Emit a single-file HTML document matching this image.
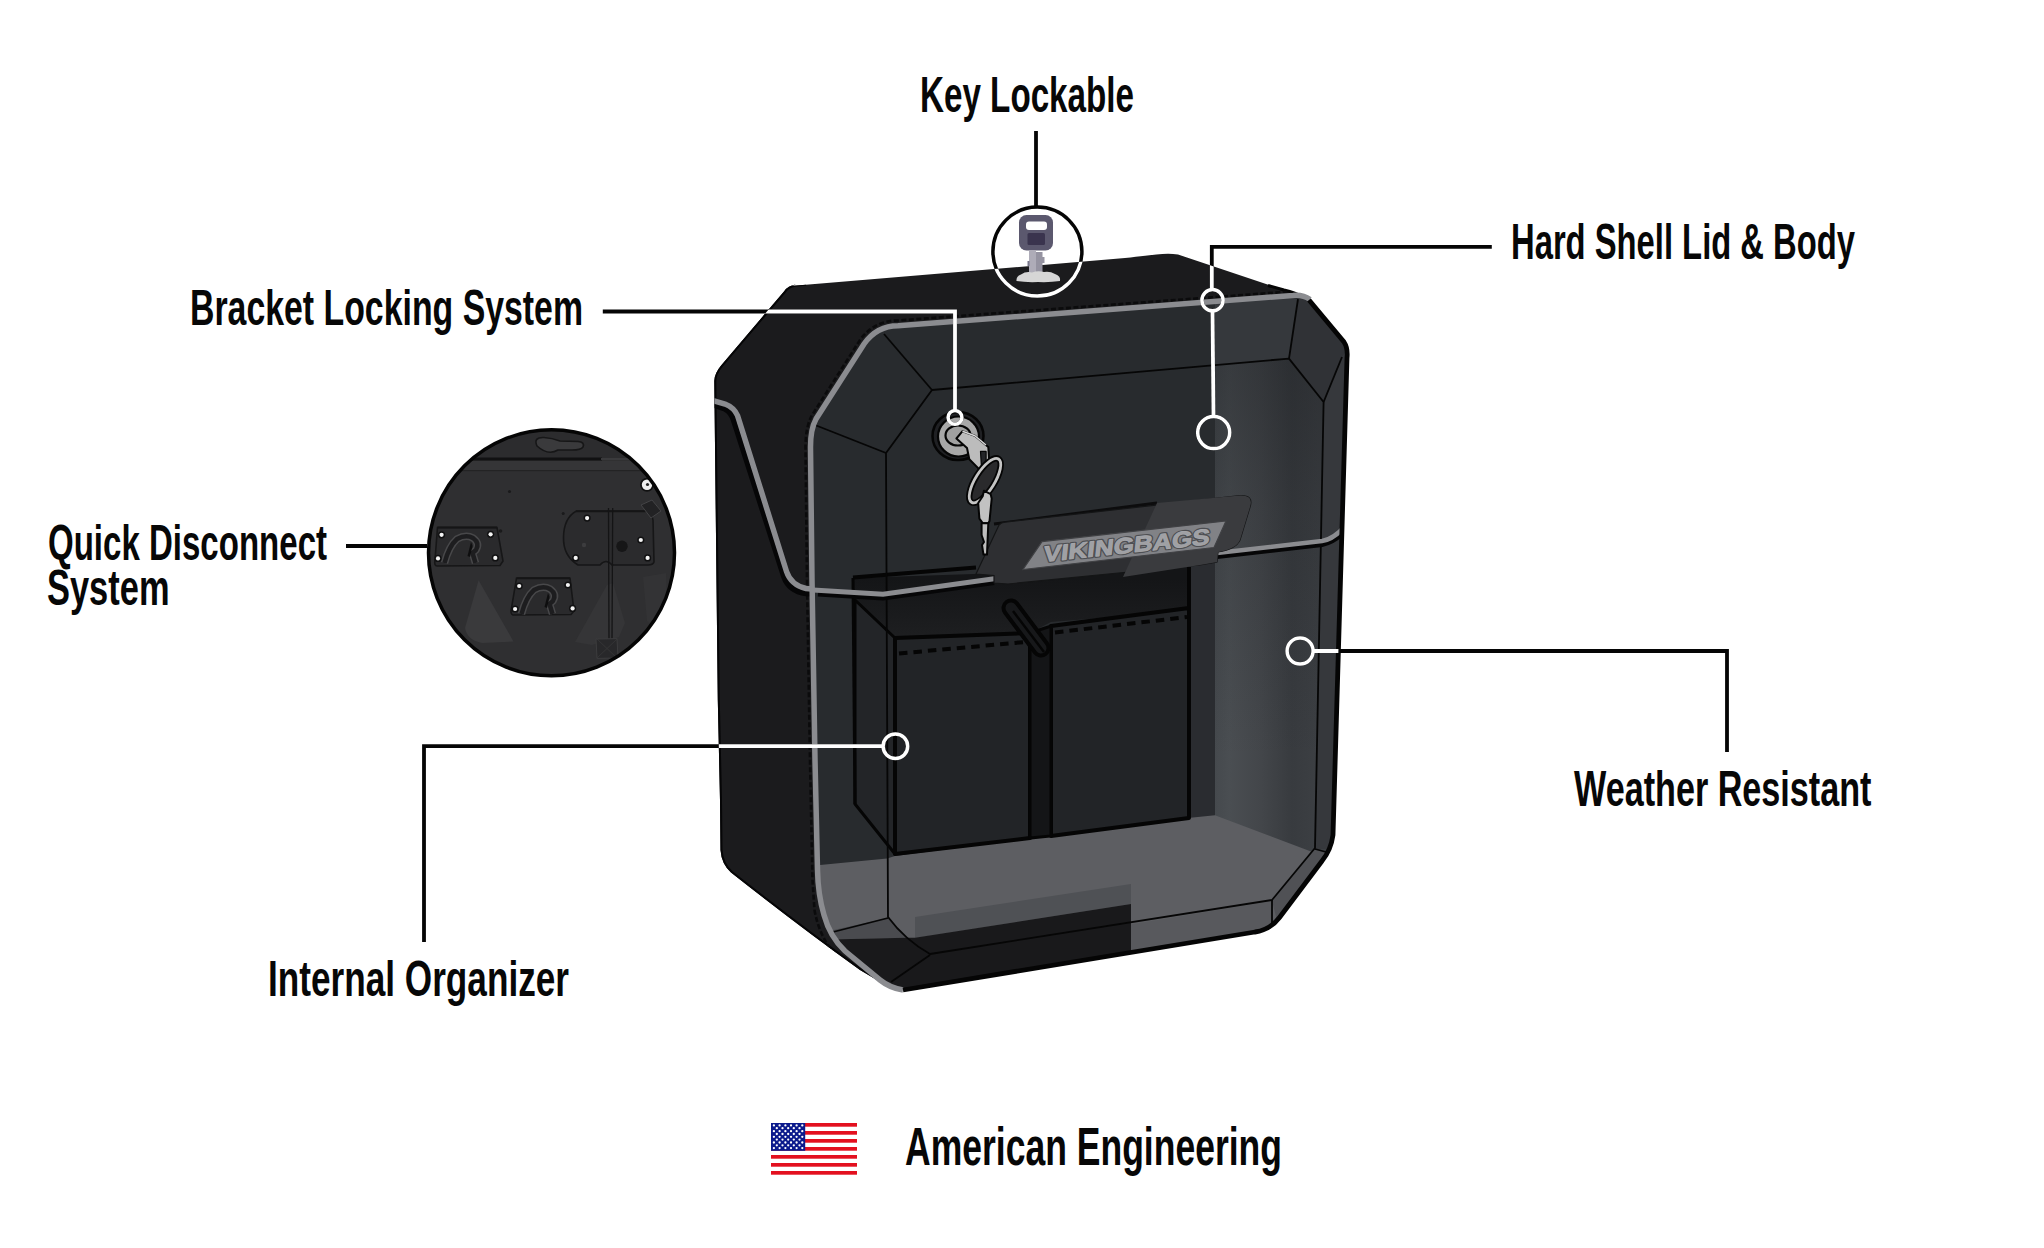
<!DOCTYPE html>
<html><head><meta charset="utf-8">
<style>
html,body{margin:0;padding:0;background:#fff;}
body{width:2044px;height:1248px;overflow:hidden;position:relative;}
svg{position:absolute;left:0;top:0;display:block;}
.t{font-family:"Liberation Sans",sans-serif;font-weight:bold;font-size:50px;fill:#070707;}
</style></head>
<body>
<svg width="2044" height="1248" viewBox="0 0 2044 1248">
<defs>
  <clipPath id="lidClip"><path id="lidPath" d="M898,325.8 L1293,295.5 Q1303,294.5 1310,299.5 L1344,342 Q1348,348 1347,358 L1333,835 Q1331,850 1322,861 L1279.5,917.5 Q1270,930 1255,932 L903,990 Q890,988 880,980 L845,951 Q830,937 824,915 Q818,895 817.5,870 L815,760 L812,580 L810.5,447 Q810.5,429 816,419 L864,344 Q877,325.8 898,325.8 Z"/></clipPath>
  <clipPath id="bagClip">
    <path d="M791,286 L1125,258 C1150,255.6 1164,252.2 1178,254.5 L1283,289.8 L1300,296 L1320,330 L1320,850 L1260,925 L900,985 L900,991.6 Q893,990 887,986 L860,970 Q800,927 731,872.5 Q721.5,864 720.5,850 L720,800 L717.8,700 L714.3,381 Q714.3,373.5 721.5,365 L784,291.5 Q788,285.5 796,284.6 Z"/>
    <path d="M898,325.8 L1293,295.5 Q1303,294.5 1310,299.5 L1344,342 Q1348,348 1347,358 L1333,835 Q1331,850 1322,861 L1279.5,917.5 Q1270,930 1255,932 L903,990 Q890,988 880,980 L845,951 Q830,937 824,915 Q818,895 817.5,870 L815,760 L812,580 L810.5,447 Q810.5,429 816,419 L864,344 Q877,325.8 898,325.8 Z"/>
  </clipPath>
  <linearGradient id="rightG" x1="1214" y1="0" x2="1318" y2="0" gradientUnits="userSpaceOnUse">
    <stop offset="0" stop-color="#45494d"/><stop offset="0.15" stop-color="#4a4e52"/><stop offset="0.45" stop-color="#43464a"/><stop offset="0.75" stop-color="#383b3f"/><stop offset="1" stop-color="#3c3f43"/>
  </linearGradient>
  <linearGradient id="orgTop" x1="0" y1="578" x2="0" y2="640" gradientUnits="userSpaceOnUse">
    <stop offset="0" stop-color="#141517"/><stop offset="1" stop-color="#1e1f21"/>
  </linearGradient>
  <clipPath id="backClip"><path d="M791,286 L1125,258 C1150,255.6 1164,252.2 1178,254.5 L1283,289.8 L1300,296 L1320,330 L1320,850 L1260,925 L900,985 L900,991.6 Q893,990 887,986 L860,970 Q800,927 731,872.5 Q721.5,864 720.5,850 L720,800 L717.8,700 L714.3,381 Q714.3,373.5 721.5,365 L784,291.5 Q788,285.5 796,284.6 Z"/></clipPath>
  <linearGradient id="vshade" x1="0" y1="300" x2="0" y2="760" gradientUnits="userSpaceOnUse">
    <stop offset="0" stop-color="#15171a" stop-opacity="0.42"/><stop offset="0.45" stop-color="#15171a" stop-opacity="0.18"/><stop offset="1" stop-color="#15171a" stop-opacity="0"/>
  </linearGradient>
  <clipPath id="insetClip"><circle cx="551.5" cy="552.8" r="123"/></clipPath>
</defs>

<!-- ===== BAG ===== -->
<g id="bag">
  <!-- back shell -->
  <path d="M791,286 L1125,258 C1150,255.6 1164,252.2 1178,254.5 L1283,289.8 L1300,296 L1320,330 L1320,850 L1260,925 L900,985 L900,991.6 Q893,990 887,986 L860,970 Q800,927 731,872.5 Q721.5,864 720.5,850 L720,800 L717.8,700 L714.3,381 Q714.3,373.5 721.5,365 L784,291.5 Q788,285.5 796,284.6 Z" fill="#1b1b1d"/>
  <g clip-path="url(#backClip)"><path d="M900,991.6 Q893,990 887,986 L860,970 Q800,927 731,872.5 Q721.5,864 720.5,850 L720,800 L717.8,700 L714.3,381 Q714.3,373.5 721.5,365 L784,291.5 Q788,285.5 796,284.6 L806,283.8" stroke="#050506" stroke-width="4" fill="none"/></g>
  <path d="M1268,285.5 L1284,290 Q1296,293 1303,297" stroke="#050505" stroke-width="3" fill="none"/>
  <!-- stitching along lid -->
  <g clip-path="url(#backClip)"><path d="M870,983 L838,957 Q820,940 814.5,910 L812.5,880 L810,760 L807,580 L805.5,447 Q805.5,428 811.5,416 L860,340 Q874,320.5 898,320.5 L1293,291.3" stroke="#0b0b0c" stroke-width="2.6" stroke-dasharray="5 2.5" fill="none"/></g>
  <!-- left flap strap gray edge -->
  <g clip-path="url(#backClip)"><path d="M714,405 L725,409 Q731,412 733.5,420 L784,577 Q789,591 806,593.5 L818,594" stroke="#060607" stroke-width="5.5" fill="none"/>
  <path d="M713,400.7 L725,404 Q734,407.5 737.5,415.5 L786.5,571.5 Q791,585 806,588.5 L818,589.5" stroke="#8b8c90" stroke-width="5.5" fill="none"/></g>

  <!-- lid -->
  <path id="lidShape" d="M898,325.8 L1293,295.5 Q1303,294.5 1310,299.5 L1344,342 Q1348,348 1347,358 L1333,835 Q1331,850 1322,861 L1279.5,917.5 Q1270,930 1255,932 L903,990 Q890,988 880,980 L845,951 Q830,937 824,915 Q818,895 817.5,870 L815,760 L812,580 L810.5,447 Q810.5,429 816,419 L864,344 Q877,325.8 898,325.8 Z" fill="#282b2e"/>

  <g clip-path="url(#lidClip)">
    <!-- right lit region -->
    <rect x="1215" y="280" width="140" height="600" fill="url(#rightG)"/>
    <rect x="1215" y="280" width="140" height="600" fill="url(#vshade)"/>
    <!-- right bevel band -->
    <path d="M1298,299 L1289,358.6 L1323.6,402 L1315,849 L1350,849 L1350,290 Z" fill="#36383c"/>
    <path d="M1298,299 L1289,358.6 L1323.6,402 L1342,357 L1350,345 L1350,290 Z" fill="#303236"/>
    <path d="M1298,299 L1289,358.6 L1215,365 L1215,300 Z" fill="#35383c"/>
    <!-- inner wall right of organizer -->
    <rect x="1189" y="560" width="26" height="260" fill="#2a2c30"/>
    <!-- floor -->
    <path d="M800,867 L887,858.5 L895,856 L1188,818 L1215,815.3 L1315,853 L1315,1000 L800,1000 Z" fill="#5d5e62"/>
    <!-- right floor corner bevel -->
    <path d="M1315,849 L1326,852 L1278,924 L1272,901 Z" fill="#505155"/>
    <!-- bottom bevel band (right) -->
    <path d="M1131,924.5 L1272,901 L1272,935 L1131,955 Z" fill="#58595d"/>
    <!-- shading bands bottom -->
    <path d="M915,917 L1131,884 L1131,904 L915,938 Z" fill="#4f5155"/>
    <path d="M820,933 L888,918 L906,937.7 L830,939.5 Z" fill="#4a4b4f"/>
    <path d="M830,939.5 L906,937.7 L915,937.8 L1131,904 L1131,960 L900,1000 L830,960 Z" fill="#19191b"/>
    <!-- organizer -->
    <path d="M853,578 L1189,567 L1189,611 L1051,622 L1030,633 L895,638 L855,600 Z" fill="url(#orgTop)"/>
    <path d="M855,600 L895,638 L895,854 L855,804 Z" fill="#232528" stroke="#050505" stroke-width="3" stroke-linejoin="round"/>
    <path d="M895,638 L1030,633 L1030,838 L895,854 Z" fill="#222427" stroke="#050505" stroke-width="4" stroke-linejoin="round"/>
    <path d="M1051,626 L1189,608 L1189,818 L1051,836 Z" fill="#222427" stroke="#050505" stroke-width="4" stroke-linejoin="round"/>
    <path d="M1030,633 L1051,626 L1051,836 L1030,838 Z" fill="#141517" stroke="#050505" stroke-width="3"/>
    <path d="M1041,648 L1011,608" stroke="#050505" stroke-width="19" stroke-linecap="round"/>
    <path d="M1041,648 L1011,608" stroke="#17181a" stroke-width="11" stroke-linecap="round"/>
    <path d="M1044,652 L1013,611" stroke="#050505" stroke-width="2.5"/>
    <path d="M853,578 L855,804" stroke="#050505" stroke-width="3"/>
    <path d="M853,577.5 L976,567.5" stroke="#050505" stroke-width="3.8"/>
    <path d="M1189,567 L1189,818" stroke="#050505" stroke-width="4"/>
    <path d="M899,653.5 L1025,642" stroke="#050505" stroke-width="4" stroke-dasharray="8.5 6"/>
    <path d="M1055,632.5 L1187,617" stroke="#050505" stroke-width="4" stroke-dasharray="8.5 6"/>
  </g>

  <!-- lid bevel lines -->
  <g stroke="#060606" stroke-width="1.8" fill="none" stroke-linejoin="round">
    <path d="M932,390 L1289,358.6 L1323.6,402 L1315,848 L1272,900 L930,954 Q905,940 888,917 L886,453 Z"/>
    <path d="M884,334 L932,390"/>
    <path d="M815,425 L886,453"/>
    <path d="M1298,299 L1289,358.6"/>
    <path d="M1342,357 L1323.6,402"/>
    <path d="M1315,849 L1326,852"/>
    <path d="M1272,900 L1272,926"/>
    <path d="M833,932 L888,918"/>
    <path d="M930,955 L891,982"/>
  </g>

  <!-- strap across lid -->
  <path d="M818,593.5 L883,597.5 L994,582" stroke="#060607" stroke-width="6" fill="none"/>
  <path d="M813,590 L883,594.2 L996,578.6" stroke="#8b8c90" stroke-width="5" fill="none"/>
  <g clip-path="url(#lidClip)">
  <path d="M1217,556 L1322,544 Q1338,541 1350,523" stroke="#060607" stroke-width="6" fill="none"/>
  <path d="M1217,553 L1322,541 Q1336,539 1350,520" stroke="#8b8c90" stroke-width="4.5" fill="none"/>
  </g>

  <!-- lid gray trim (top/left) -->
  <path d="M903,990 Q890,988 880,980 L845,951 Q830,937 824,915 Q818,895 817.5,870 L815,760 L812,580 L810.5,447 Q810.5,429 816,419 L864,344 Q877,325.8 898,325.8 L1293,295.5 Q1303,294.5 1310,299.5" stroke="#8b8c90" stroke-width="5.5" fill="none"/>
  <!-- lid black border (right/bottom) -->
  <path d="M1309,300 L1344,342 Q1348,348 1347,358 L1333,835 Q1331,850 1322,861 L1279.5,917.5 Q1270,930 1255,932 L903,990" stroke="#050505" stroke-width="4.8" fill="none"/>

  <!-- logo plate -->
  <path d="M994,524 L1157,503" stroke="#0c0c0d" stroke-width="3"/>
  <path d="M976,574 L999,525 Q1001,522.6 1005,522.2 L1240,495.6 Q1254,495 1250,507 L1240,540 Q1236,549 1218,552 L1217,562 L1200,565 L1008,584 L994,583 L994,575.5 Z" fill="#2e2f32" stroke="#141516" stroke-width="1.2"/>
  <path d="M1157,503 L1240,495.6 Q1254,495 1250,507 L1240,540 Q1236,549 1218,552 L1217,562 L1200,565 L1123,577 Z" fill="#3a3b3e"/>
  <path d="M1023,569.5 L1042,541.6 L1226,521 L1214,547.5 Z" fill="#818286" stroke="#404144" stroke-width="1.2"/>
  <text x="0" y="0" transform="translate(1043 562) rotate(-6.1) skewX(-12)" font-family="Liberation Sans" font-weight="bold" font-size="22" fill="none" stroke="#4e4f53" stroke-width="3.2" stroke-linejoin="round" textLength="167" lengthAdjust="spacingAndGlyphs">VIKINGBAGS</text>
  <text x="0" y="0" transform="translate(1043 562) rotate(-6.1) skewX(-12)" font-family="Liberation Sans" font-weight="bold" font-size="22" fill="#9fa0a4" stroke="#a4a5a9" stroke-width="0.9" stroke-linejoin="round" textLength="167" lengthAdjust="spacingAndGlyphs">VIKINGBAGS</text>

  <!-- lock -->
  <ellipse cx="958" cy="436" rx="25.5" ry="24" fill="#1f2023" stroke="#050505" stroke-width="2.5"/>
  <ellipse cx="958.5" cy="436.5" rx="20.5" ry="20" fill="#a8a8a8" stroke="#050505" stroke-width="2.2"/>
  <ellipse cx="958" cy="435.5" rx="12.5" ry="10" fill="#a0a0a0" stroke="#050505" stroke-width="2.2"/>
  <!-- keys -->
  <g stroke="#050505" stroke-width="2" stroke-linejoin="round">
    <path d="M962.5,431.2 L974.9,435.7 L988.3,446.9 L989.5,467.1 L982.7,469.4 L979.4,469.4 L969.3,459.3 L967,448 L956.4,438.5 Z" fill="#bcbcbc"/>
    <path d="M980.5,451.4 L986.1,451.4 L986.1,468.2 L981.6,469.4 Z" fill="#232427" stroke-width="1.2"/>
    <path d="M962.5,431.2 L974.9,435.7 L986,445" fill="none" stroke="#d8d8d8" stroke-width="1.5"/>
    <ellipse cx="985" cy="480.6" rx="9.5" ry="25.5" transform="rotate(32 985 480.6)" fill="#2a2a2c" stroke="#050505" stroke-width="6.5"/>
    <ellipse cx="985" cy="480.6" rx="9.5" ry="25.5" transform="rotate(32 985 480.6)" fill="none" stroke="#c4c4c4" stroke-width="2.8"/>
    <path d="M983.9,490.7 L990.6,494.1 L991.7,498.5 L989.5,521 L988.3,523.2 L982.7,523.2 L979.4,518.7 L978.2,503 L982.7,496.3 Z" fill="#c2c2c2"/>
    <path d="M981.6,523.2 L988.3,523.2 L987,554.6 L983.5,554.6 L982,545 L984,542 L981.6,535 Z" fill="#bdbdbd"/>
  </g>

  <!-- key icon on top (in circle) -->
  <g>
    <rect x="1019" y="215" width="34" height="35.5" rx="7.5" fill="#5b586e"/>
    <rect x="1026" y="221.5" width="21" height="8.5" rx="3" fill="#ffffff"/>
    <rect x="1027.5" y="233" width="17.5" height="12" rx="1.5" fill="#3a344e"/>
    <rect x="1029" y="250" width="7" height="23" fill="#aeacb8"/>
    <rect x="1036" y="252" width="6.5" height="21" fill="#9593a1"/>
    <rect x="1042" y="257" width="2.5" height="6" fill="#9593a1"/>
    <rect x="1027.5" y="261" width="2" height="5" fill="#77758a"/>
    <path d="M1016.5,281 Q1016,276 1021,274.5 Q1026,271 1032,272.5 Q1038,270.5 1044,272 Q1050,271 1055,274 Q1061,276 1060,281 Q1050,282.5 1038,282 Q1026,282.5 1016.5,281 Z" fill="#d6d6d6"/>
  </g>
</g>

<!-- ===== LEADER LINES ===== -->
<g id="leaders-black" stroke="#050505" fill="none" stroke-width="3.8">
  <path d="M1036,131 L1036,206"/>
  <circle cx="1037.4" cy="251.6" r="44.5" stroke-width="3.5"/>
  <path d="M1491.8,246.9 L1211.8,246.9 L1211.8,289.8"/>
  <circle cx="1212.5" cy="300.2" r="10.6" stroke-width="3.5"/>
  <path d="M1212.5,310.8 L1213.5,416.6"/>
  <circle cx="1213.7" cy="432.6" r="16" stroke-width="3.5"/>
  <path d="M602.8,311.5 L955,311.5 L955,410.5"/>
  <circle cx="955" cy="417.4" r="6.9" stroke-width="3.5"/>
  <path d="M346,546 L427,546"/>
  <path d="M1313,651 L1727,651 L1727,752"/>
  <circle cx="1300.1" cy="651" r="13" stroke-width="3.5"/>
  <path d="M883,746.2 L424,746.2 L424,942"/>
  <circle cx="895.4" cy="746.2" r="12.3" stroke-width="3.5"/>
</g>
<g id="leaders-white" stroke="#ffffff" fill="none" stroke-width="3.8" clip-path="url(#bagClip)">
  <path d="M1036,131 L1036,206"/>
  <circle cx="1037.4" cy="251.6" r="44.5" stroke-width="3.5"/>
  <path d="M1491.8,246.9 L1211.8,246.9 L1211.8,289.8"/>
  <circle cx="1212.5" cy="300.2" r="10.6" stroke-width="3.5"/>
  <path d="M1212.5,310.8 L1213.5,416.6"/>
  <circle cx="1213.7" cy="432.6" r="16" stroke-width="3.5"/>
  <path d="M602.8,311.5 L955,311.5 L955,410.5"/>
  <circle cx="955" cy="417.4" r="6.9" stroke-width="3.5"/>
  <path d="M1313,651 L1727,651 L1727,752"/>
  <circle cx="1300.1" cy="651" r="13" stroke-width="3.5"/>
  <path d="M883,746.2 L424,746.2 L424,942"/>
  <circle cx="895.4" cy="746.2" r="12.3" stroke-width="3.5"/>
</g>

<!-- ===== INSET CIRCLE ===== -->
<g id="inset">
  <circle cx="551.5" cy="552.8" r="123" fill="#2f2f31"/>
  <g clip-path="url(#insetClip)">
    <rect x="420" y="420" width="270" height="38" fill="#2c2c2e"/>
    <path d="M537,446 Q533,437 544,437.5 Q552,438 560,441 L578,441.5 Q585,442 583,447 Q581,450 572,450 L558,450 Q548,456 537,446 Z" fill="#3a3a3c" stroke="#161617" stroke-width="1.6"/>
    <rect x="420" y="457.5" width="182" height="3.2" fill="#111112"/>
    <rect x="601" y="458" width="30" height="2" fill="#3a3a3c"/>
    <path d="M420,460.7 L636,460.7 L640,470.5 L420,470.5 Z" fill="#353537"/>
    <rect x="420" y="470" width="222" height="1.2" fill="#232324"/>
    <!-- subtle lighter right area -->
    <path d="M643,577 L666,573 L668,640 L647,621 Z" fill="#333335"/>
    <!-- wedges -->
    <path d="M478.6,580.3 L513.5,641.5 L482,643 Q467,640 465,628 Z" fill="#3a3a3c"/>
    <path d="M575,642 L607,585 L613,583 L625,623 L619,637 L592,645 Z" fill="#353537"/>
    <!-- plates -->
    <path d="M437.5,527.5 L497,527.5 L503,561 L500,565.5 L437,566 Q434,566 435,560 Z" fill="#2a2a2c" stroke="#161617" stroke-width="1.6"/>
    <path d="M437.5,527.5 L497,527.5" stroke="#151516" stroke-width="2"/>
    <path d="M444.5,563 Q449,546 457,539 Q466,534 473,538 Q480,543 476,550 L472.5,553 L475.5,563" stroke="#48484a" stroke-width="7.5" fill="none" stroke-linejoin="round"/>
    <path d="M444.5,563 Q449,546 457,539 Q466,534 473,538 Q480,543 476,550 L472.5,553 L475.5,563" stroke="#1d1d1f" stroke-width="4.5" fill="none" stroke-linejoin="round"/>
    <path d="M471,542 L467.5,556 L470,557 L472.5,546 Z" fill="#0e0e0f"/>
    <path d="M516.5,578.2 L570,578.2 L574,611 L571,614.5 L513,615 Q510,614 511.5,608 Z" fill="#2a2a2c" stroke="#161617" stroke-width="1.6"/>
    <path d="M516.5,578.2 L570,578.2" stroke="#151516" stroke-width="2"/>
    <path d="M521.5,614 Q526,597 534,590 Q543,585 550,589 Q557,594 553,601 L549.5,604 L552.5,614" stroke="#48484a" stroke-width="7.5" fill="none" stroke-linejoin="round"/>
    <path d="M521.5,614 Q526,597 534,590 Q543,585 550,589 Q557,594 553,601 L549.5,604 L552.5,614" stroke="#1d1d1f" stroke-width="4.5" fill="none" stroke-linejoin="round"/>
    <path d="M548,593 L544.5,607 L547,608 L549.5,597 Z" fill="#0e0e0f"/>
    <path d="M576,511.3 L645,511.3 Q652,512 653,520 L654,562 Q653,565 648,565 L612,565 Q606,558 600,565 L578,565 Q563,556 563.5,537 Q564,518 576,511.3 Z" fill="#2b2b2d" stroke="#161617" stroke-width="1.6"/>
    <path d="M576,511.3 L645,511.3" stroke="#151516" stroke-width="2"/>
    <circle cx="622" cy="546.2" r="5.7" fill="#161617"/>
    <circle cx="584" cy="545" r="2.2" fill="#3c3c3e"/>
    <path d="M608.5,508 L609,640 M612.7,508 L612,640" stroke="#141415" stroke-width="1.3"/>
    <path d="M596,639 L617,638.6 L618,658 L597,658.4 Z" fill="#28282a" stroke="#3c3c3e" stroke-width="1"/>
    <path d="M597,639 L617,658 M617,639 L597,658" stroke="#38383a" stroke-width="0.8"/>
    <circle cx="647" cy="484.8" r="7" fill="#111"/>
    <circle cx="647" cy="484.8" r="5.2" fill="#ededed"/>
    <circle cx="647.5" cy="484.5" r="1.6" fill="#222"/>
    <path d="M641,505 L652,500 L661,511 L651,518 Z" fill="#222224" stroke="#444446" stroke-width="1"/>
    <g fill="#111112">
      <circle cx="441.6" cy="534.8" r="3.6"/><circle cx="490.6" cy="534.3" r="3.6"/><circle cx="438" cy="558.4" r="3.6"/><circle cx="495.3" cy="557.9" r="3.6"/>
      <circle cx="519.2" cy="586" r="3.6"/><circle cx="567.9" cy="585" r="3.6"/><circle cx="515.1" cy="609" r="3.6"/><circle cx="572.6" cy="608.4" r="3.6"/>
      <circle cx="587.1" cy="518.1" r="3.6"/><circle cx="640.8" cy="540" r="3.6"/><circle cx="575.7" cy="557.9" r="3.6"/><circle cx="647.6" cy="557.9" r="3.6"/>
    </g>
    <g fill="#f4f4f4">
      <circle cx="441.6" cy="534.8" r="2.1"/><circle cx="490.6" cy="534.3" r="2.1"/><circle cx="438" cy="558.4" r="2.1"/><circle cx="495.3" cy="557.9" r="2.1"/>
      <circle cx="519.2" cy="586" r="2.1"/><circle cx="567.9" cy="585" r="2.1"/><circle cx="515.1" cy="609" r="2.1"/><circle cx="572.6" cy="608.4" r="2.1"/>
      <circle cx="587.1" cy="518.1" r="2.1"/><circle cx="640.8" cy="540" r="2.1"/><circle cx="575.7" cy="557.9" r="2.1"/><circle cx="647.6" cy="557.9" r="2.1"/>
    </g>
    <circle cx="509.5" cy="491.5" r="1.5" fill="#1a1a1b"/>
    <circle cx="563.2" cy="513.4" r="1.5" fill="#1a1a1b"/>
    <circle cx="500.5" cy="531" r="1.8" fill="#1a1a1b"/>
  </g>
  <circle cx="551.5" cy="552.8" r="123" fill="none" stroke="#050505" stroke-width="3.5"/>
</g>

<!-- ===== FLAG ===== -->
<g id="flag">
  <rect x="771" y="1123" width="86" height="52" fill="#ffffff"/>
  <g fill="#e3101f">
    <rect x="771" y="1123" width="86" height="3.7"/>
    <rect x="771" y="1131" width="86" height="3.7"/>
    <rect x="771" y="1139" width="86" height="3.7"/>
    <rect x="771" y="1147" width="86" height="3.7"/>
    <rect x="771" y="1155" width="86" height="3.7"/>
    <rect x="771" y="1163" width="86" height="3.7"/>
    <rect x="771" y="1171" width="86" height="3.7"/>
  </g>
  <rect x="771" y="1123" width="34.2" height="27.8" fill="#0b1a8c"/>
  <g fill="#ffffff"><circle cx="773.9" cy="1125.4" r="1.15"/><circle cx="779.6" cy="1125.4" r="1.15"/><circle cx="785.4" cy="1125.4" r="1.15"/><circle cx="791" cy="1125.4" r="1.15"/><circle cx="796.6" cy="1125.4" r="1.15"/><circle cx="802.3" cy="1125.4" r="1.15"/><circle cx="776.8" cy="1128.2" r="1.15"/><circle cx="782.5" cy="1128.2" r="1.15"/><circle cx="788.2" cy="1128.2" r="1.15"/><circle cx="793.8" cy="1128.2" r="1.15"/><circle cx="799.5" cy="1128.2" r="1.15"/><circle cx="773.9" cy="1131.2" r="1.15"/><circle cx="779.6" cy="1131.2" r="1.15"/><circle cx="785.4" cy="1131.2" r="1.15"/><circle cx="791" cy="1131.2" r="1.15"/><circle cx="796.6" cy="1131.2" r="1.15"/><circle cx="802.3" cy="1131.2" r="1.15"/><circle cx="776.8" cy="1134" r="1.15"/><circle cx="782.5" cy="1134" r="1.15"/><circle cx="788.2" cy="1134" r="1.15"/><circle cx="793.8" cy="1134" r="1.15"/><circle cx="799.5" cy="1134" r="1.15"/><circle cx="773.9" cy="1136.8" r="1.15"/><circle cx="779.6" cy="1136.8" r="1.15"/><circle cx="785.4" cy="1136.8" r="1.15"/><circle cx="791" cy="1136.8" r="1.15"/><circle cx="796.6" cy="1136.8" r="1.15"/><circle cx="802.3" cy="1136.8" r="1.15"/><circle cx="776.8" cy="1139.6" r="1.15"/><circle cx="782.5" cy="1139.6" r="1.15"/><circle cx="788.2" cy="1139.6" r="1.15"/><circle cx="793.8" cy="1139.6" r="1.15"/><circle cx="799.5" cy="1139.6" r="1.15"/><circle cx="773.9" cy="1142.5" r="1.15"/><circle cx="779.6" cy="1142.5" r="1.15"/><circle cx="785.4" cy="1142.5" r="1.15"/><circle cx="791" cy="1142.5" r="1.15"/><circle cx="796.6" cy="1142.5" r="1.15"/><circle cx="802.3" cy="1142.5" r="1.15"/><circle cx="776.8" cy="1145.3" r="1.15"/><circle cx="782.5" cy="1145.3" r="1.15"/><circle cx="788.2" cy="1145.3" r="1.15"/><circle cx="793.8" cy="1145.3" r="1.15"/><circle cx="799.5" cy="1145.3" r="1.15"/><circle cx="773.9" cy="1148.1" r="1.15"/><circle cx="779.6" cy="1148.1" r="1.15"/><circle cx="785.4" cy="1148.1" r="1.15"/><circle cx="791" cy="1148.1" r="1.15"/><circle cx="796.6" cy="1148.1" r="1.15"/><circle cx="802.3" cy="1148.1" r="1.15"/></g>
</g>

<!-- ===== TEXT ===== -->
<g class="t">
  <text x="920" y="111.9" textLength="214" lengthAdjust="spacingAndGlyphs">Key Lockable</text>
  <text x="1511" y="259.4" textLength="344" lengthAdjust="spacingAndGlyphs">Hard Shell Lid &amp; Body</text>
  <text x="190" y="325" textLength="393" lengthAdjust="spacingAndGlyphs">Bracket Locking System</text>
  <text x="48" y="559.5" textLength="279" lengthAdjust="spacingAndGlyphs">Quick Disconnect</text>
  <text x="47" y="604.5" textLength="122.5" lengthAdjust="spacingAndGlyphs">System</text>
  <text x="1574" y="805.9" textLength="297.5" lengthAdjust="spacingAndGlyphs">Weather Resistant</text>
  <text x="268" y="995.9" textLength="301" lengthAdjust="spacingAndGlyphs">Internal Organizer</text>
  <text x="905" y="1165" textLength="377" style="font-size:53px" lengthAdjust="spacingAndGlyphs">American Engineering</text>
</g>
</svg>
</body></html>
